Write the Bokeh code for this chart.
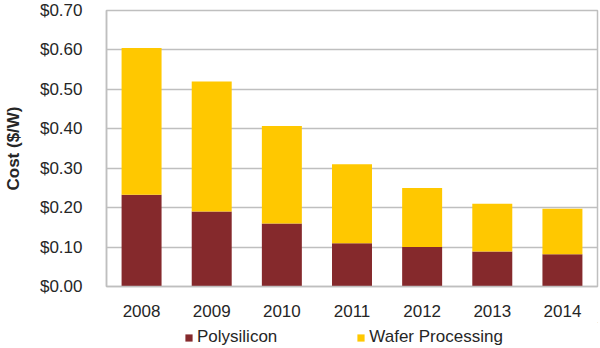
from bokeh.plotting import figure
from bokeh.layouts import column
from bokeh.models import ColumnDataSource, NumeralTickFormatter, Legend, LegendItem, FixedTicker, Range1d
from bokeh.embed import file_html
from bokeh.resources import INLINE

years = ["2008", "2009", "2010", "2011", "2012", "2013", "2014"]
polysilicon = [0.233, 0.19, 0.16, 0.11, 0.10, 0.089, 0.082]
wafer_processing = [0.372, 0.33, 0.247, 0.20, 0.15, 0.121, 0.115]
series = ["Polysilicon", "Wafer Processing"]
colors = ["#85292C", "#FFC800"]
y_ticks = [0.0, 0.1, 0.2, 0.3, 0.4, 0.5, 0.6, 0.7]

src = ColumnDataSource(data=dict(year=years, Polysilicon=polysilicon,
                                 **{"Wafer Processing": wafer_processing}))

p = figure(x_range=years, width=600, height=322, output_backend="svg",
           toolbar_location=None, min_border_left=106, min_border_right=3,
           min_border_top=10, min_border_bottom=36)
p.x_range.range_padding = 0
p.y_range = Range1d(0, 0.70)

rs = p.vbar_stack(series, x="year", width=0.57, color=colors, source=src,
                  line_color=None)

font = "Liberation Sans"
p.yaxis.ticker = FixedTicker(ticks=y_ticks)
p.yaxis.formatter = NumeralTickFormatter(format="$0.00")
p.yaxis.axis_label = "Cost ($/W)"
p.yaxis.axis_label_text_font = font
p.yaxis.axis_label_text_font_style = "bold"
p.yaxis.axis_label_text_font_size = "17px"
p.yaxis.axis_label_text_color = "#262626"
p.yaxis.axis_label_standoff = 14
for ax in (p.xaxis, p.yaxis):
    ax.major_label_text_font = font
    ax.major_label_text_font_size = "17px"
    ax.major_label_text_color = "#262626"
    ax.major_tick_line_color = None
    ax.minor_tick_line_color = None
    ax.axis_line_color = "#BFBFBF"
    ax.axis_line_width = 1.5
p.yaxis.major_label_standoff = 18
p.xaxis.major_label_standoff = 12

p.xgrid.grid_line_color = None
p.ygrid.grid_line_color = "#BFBFBF"
p.ygrid.grid_line_width = 1.5
p.outline_line_color = "#BFBFBF"
p.outline_line_width = 1.5

# Legend strip below the chart (frames are aligned with the main chart)
p2 = figure(width=600, height=26, output_backend="svg", toolbar_location=None,
            min_border_left=106, min_border_right=3, min_border_top=0,
            min_border_bottom=0, x_range=(0, 1), y_range=(0, 1))
p2.axis.visible = False
p2.grid.visible = False
p2.outline_line_color = None
leg_rs = [p2.vbar(x=[5], top=[5], bottom=[4], width=0.5, color=c, line_color=None)
          for c in colors]
legend = Legend(items=[LegendItem(label=s, renderers=[r]) for s, r in zip(series, leg_rs)],
                orientation="horizontal", location=(78, 1),
                label_text_font=font, label_text_font_size="17px",
                label_text_color="#262626", glyph_width=9, glyph_height=9,
                spacing=79, label_standoff=4, background_fill_alpha=0,
                border_line_color=None, padding=0, margin=0)
p2.add_layout(legend, "center")

layout = column(p, p2, spacing=0)
open("out.html", "w").write(file_html(layout, INLINE))
